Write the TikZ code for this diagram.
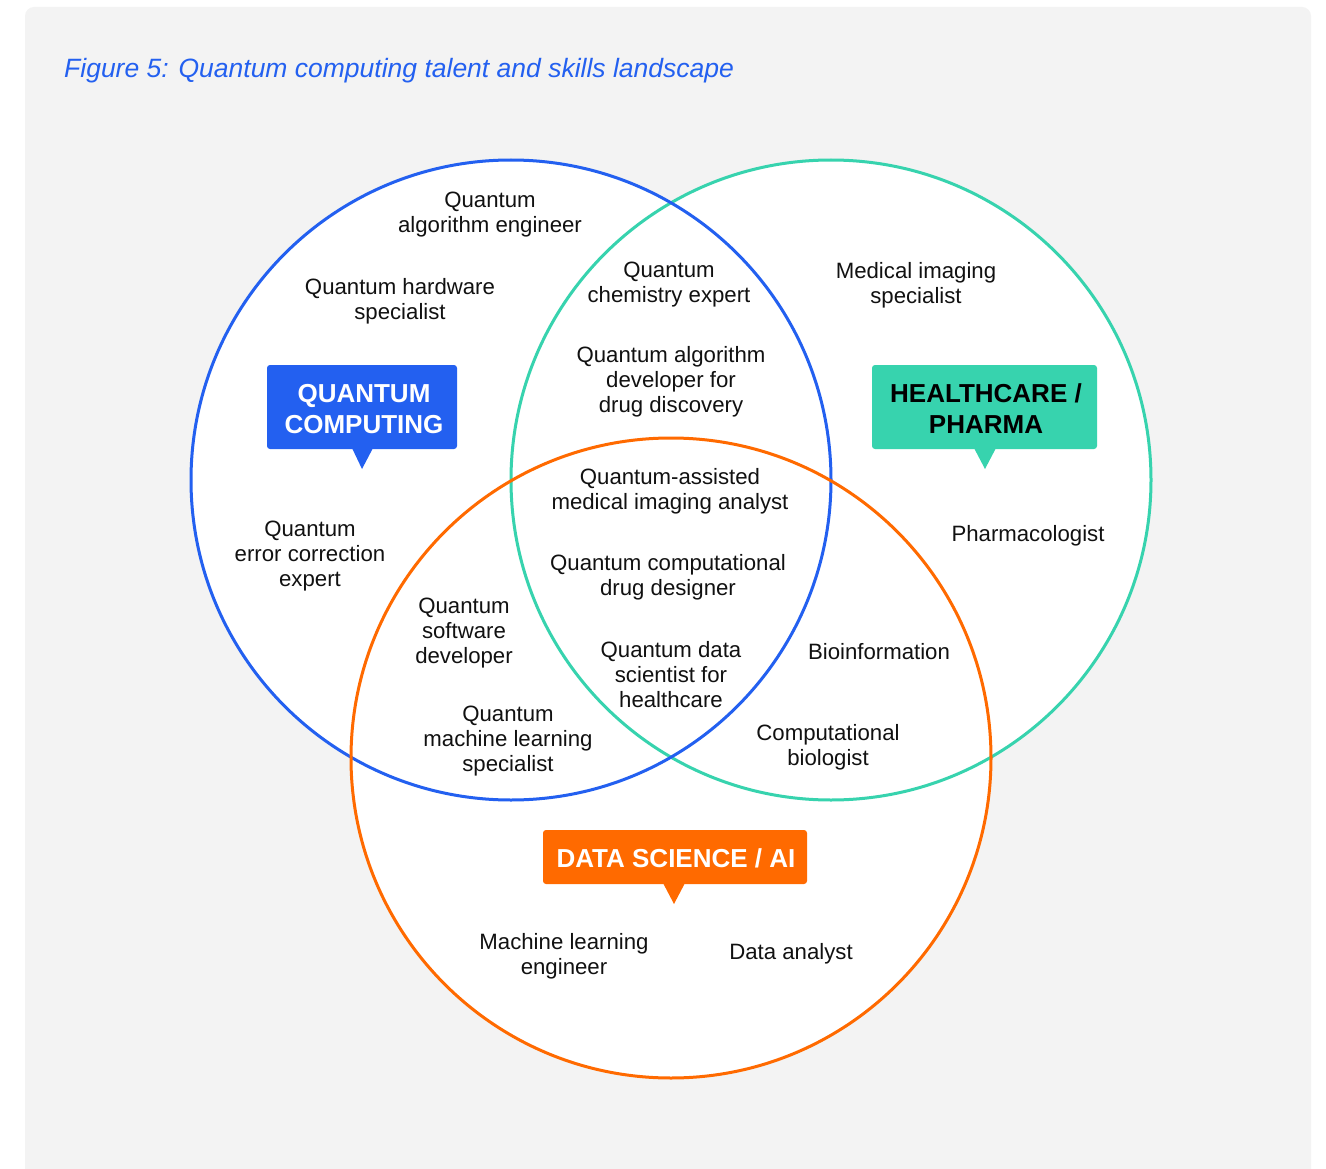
\documentclass[tikz,border=0pt]{standalone}
\usepackage{fontspec}
\setmainfont{Liberation Sans}
\definecolor{qblue}{HTML}{2360F0}
\definecolor{hgreen}{HTML}{37D3AE}
\definecolor{dorange}{HTML}{FF6A00}
\definecolor{panel}{HTML}{F3F3F3}
\definecolor{txt}{HTML}{111111}
\begin{document}
\begin{tikzpicture}[x=1pt,y=-1pt,
  role/.style={align=center,text=txt,font=\fontsize{22.2}{25}\selectfont,inner sep=0pt},
  tag/.style={align=center,font=\fontsize{26}{31}\selectfont\bfseries,inner sep=0pt},
  ring/.style={line width=3pt}]
\useasboundingbox (0,0) rectangle (1326,1169);
\fill[white] (0,0) rectangle (1326,1169);
\fill[panel,rounded corners=9pt] (25,7) rectangle (1311,1185);
\node[anchor=west,text=qblue,font=\fontsize{26.5}{30}\selectfont\itshape,inner sep=0pt] (title) at (64,71) {Figure 5: Quantum computing talent and skills landscape};
% circles
\fill[white] (511,480) circle (320);
\fill[white] (831,480) circle (320);
\fill[white] (671,758) circle (320);
\draw[ring,hgreen] (831,480) circle (320);
\draw[ring,qblue] (511,480) circle (320);
\draw[ring,dorange] (671,758) circle (320);
% tags
\fill[qblue,rounded corners=3pt] (267,365) rectangle (457,449);
\fill[qblue] (352,448) -- (373,448) -- (362,469) -- cycle;
\node[tag,text=white] (qc) at (364,409) {QUANTUM\\COMPUTING};
\fill[hgreen,rounded corners=3pt] (872,365) rectangle (1097,449);
\fill[hgreen] (974,448) -- (996,448) -- (985,469) -- cycle;
\node[tag,text=black] (hp) at (986,409) {HEALTHCARE /\\PHARMA};
\fill[dorange,rounded corners=3pt] (543,830) rectangle (807,884);
\fill[dorange] (663,883) -- (685,883) -- (674,904) -- cycle;
\node[tag,text=white] (ds) at (676,858) {DATA SCIENCE / AI};
% roles
\node[role] (r1) at (490,215) {Quantum\\algorithm engineer};
\node[role] (r2) at (400,301) {Quantum hardware\\specialist};
\node[role] (r3) at (669,285) {Quantum\\chemistry expert};
\node[role] (r4) at (916,285) {Medical imaging\\specialist};
\node[role] (r5) at (671,382) {Quantum algorithm\\developer for\\drug discovery};
\node[role] (r6) at (670,491) {Quantum-assisted\\medical imaging analyst};
\node[role] (r7) at (310,556) {Quantum\\error correction\\expert};
\node[role] (r8) at (1028,536) {Pharmacologist};
\node[role] (r9) at (668,577) {Quantum computational\\drug designer};
\node[role] (r10) at (464,633) {Quantum\\software\\developer};
\node[role] (r11) at (671,675) {Quantum data\\scientist for\\healthcare};
\node[role] (r12) at (879,652) {Bioinformation};
\node[role] (r13) at (508,741) {Quantum\\machine learning\\specialist};
\node[role] (r14) at (828,747) {Computational\\biologist};
\node[role] (r15) at (564,956) {Machine learning\\engineer};
\node[role] (r16) at (791,954) {Data analyst};
\end{tikzpicture}
\end{document}
